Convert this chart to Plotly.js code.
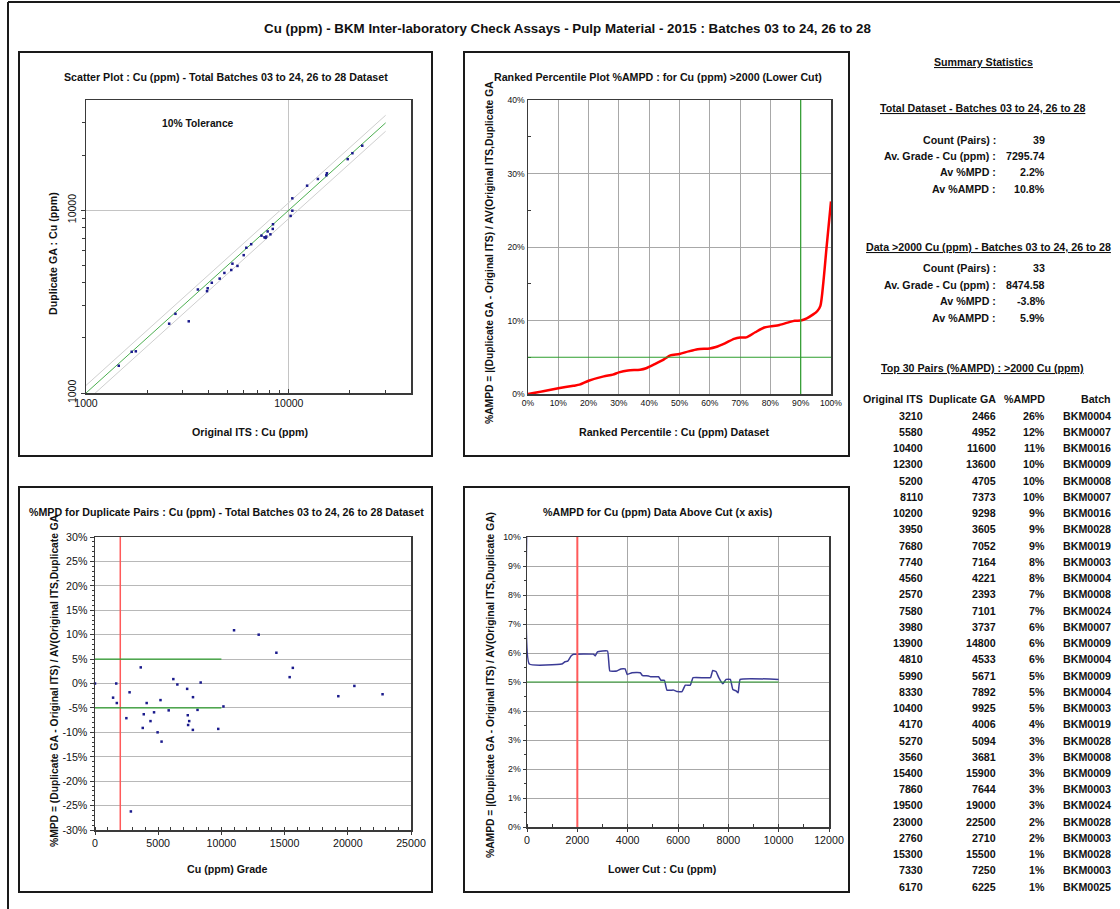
<!DOCTYPE html>
<html><head><meta charset="utf-8">
<script src="https://cdn.plot.ly/plotly-3.0.1.min.js"></script>
<style>html,body{margin:0;padding:0;background:#fff;}#chart{width:1120px;height:909px;}</style>
</head><body><div id="chart"></div>
<script>
// ================= DATA =================
// Pairs: first 30 are the "Top 30 Pairs" table (ordered by %AMPD), then the other visible pairs
const originalITS = [3210,5580,10400,12300,5200,8110,10200,3950,7680,7740,4560,2570,7580,3980,13900,4810,5990,8330,10400,4170,5270,3560,15400,7860,19500,23000,2760,15300,7330,6170, 6520,8350,20570, 1450,1680,1760];
const duplicateGA = [2466,4952,11600,13600,4705,7373,9298,3605,7052,7164,4221,2393,7101,3737,14800,4533,5671,7892,9925,4006,5094,3681,15900,7644,19000,22500,2710,15500,7250,6225, 6510,8370,20470, 1409,1680,1690];
const top30AMPD = ['26%','12%','11%','10%','10%','10%','9%','9%','9%','8%','8%','7%','7%','6%','6%','6%','5%','5%','5%','4%','3%','3%','3%','3%','3%','2%','2%','1%','1%','1%'];
const top30Batch = ['BKM0004','BKM0007','BKM0016','BKM0009','BKM0008','BKM0007','BKM0016','BKM0028','BKM0019','BKM0003','BKM0004','BKM0008','BKM0024','BKM0007','BKM0009','BKM0004','BKM0009','BKM0004','BKM0003','BKM0019','BKM0028','BKM0008','BKM0009','BKM0003','BKM0024','BKM0028','BKM0003','BKM0028','BKM0003','BKM0025'];

// Scatter reference lines
const lineX = [1000, 30000];
const tolerance = 0.10;

// %MPD plot (grade = pair average, %MPD)
const mpdGrade = [0,1430,1680,1725,2481,2735,2838,3620,3777,3858,4088,4390,4671,4952,5182,5266,5830,6197,6515,7290,7340,7366,7452,7752,7741,8111,8360,9749,10162,11000,12950,14350,15400,15650,19250,20520,22750];
const mpdValue = [0,-2.9,0,-4.0,-7.1,-1.8,-26.2,3.3,-9.1,-6.3,-4.0,-7.7,-5.9,-10.0,-3.4,-11.9,-5.5,0.9,-0.2,-1.1,-6.5,-8.5,-7.7,-2.8,-9.5,-5.4,0.2,-9.3,-4.7,10.9,10.0,6.3,1.3,3.2,-2.6,-0.5,-2.2];
const mpdTicks = [-30,-25,-20,-15,-10,-5,0,5,10,15,20,25,30];

// Ranked percentile plot
const rankPct  = [0,5,10,15,17,20,25,28,30,33,37,39,42,45,47,50,53,56,60,62,65,68,70,72,75,78,80,83,86,88,90,92,94,95.5,96.5,97.5,98.5,100];
const rankAMPD = [0,0.36,0.77,1.13,1.27,1.8,2.4,2.63,2.94,3.2,3.3,3.5,4.1,4.75,5.25,5.44,5.8,6.1,6.2,6.4,6.9,7.5,7.7,7.7,8.4,9.05,9.2,9.4,9.75,9.97,10.0,10.3,10.8,11.3,12.0,15.3,19.8,26.2];

// %AMPD above lower cut
const cutX    = [0,90,1380,1510,1620,1750,1850,2640,2710,2800,3200,3290,3570,3730,3900,3980,4170,4500,4590,4830,4910,5230,5320,5460,5560,5830,5960,6160,6290,6490,6600,7290,7380,7510,7620,7780,7910,8080,8180,8310,8390,8470,10000];
const cutAMPD = [10.8,5.62,5.62,5.70,5.72,5.90,5.96,5.96,5.90,6.04,6.07,5.38,5.38,5.45,5.45,5.26,5.32,5.32,5.22,5.21,5.18,5.18,5.06,5.06,4.72,4.72,4.67,4.67,4.89,4.89,5.15,5.15,5.40,5.36,5.15,4.94,5.09,5.09,4.74,4.69,4.63,5.09,5.09];

const lowerCut = 2000, ampdTarget = 5, percentileMark = 90, mpdBand = 5, bandMaxGrade = 10000;

const statLabels = ['Count (Pairs) :','Av. Grade - Cu (ppm) :','Av %MPD :','Av %AMPD :'];
const totalStats = ['39','7295.74','2.2%','10.8%'];
const cutStats   = ['33','8474.58','-3.8%','5.9%'];

// ================= LAYOUT HELPERS =================
const W = 1120, H = 909;
const px = v => v / W, py = v => 1 - v / H;
const FONT = '"Liberation Sans", Arial, sans-serif';
const TXT = '#111';
const annotations = [];
function txt(text, x, y, o) {
  o = o || {};
  annotations.push(Object.assign({
    xref:'paper', yref:'paper', x:px(x), y:py(y), text:text, showarrow:false,
    xanchor:'center', yanchor:'middle', borderpad:0,
    font:{family:FONT, size:o.size || 10.67, color:TXT}
  }, o.extra || {}));
}

const axBase = {showline:true, mirror:true, linecolor:'#3a3a3a', linewidth:1.5, zeroline:false,
  ticklen:4, tickcolor:'#3a3a3a', tickwidth:1, gridcolor:'#b0b0b0', gridwidth:1, fixedrange:true,
  tickfont:{family:FONT, size:9, color:TXT}};
function ax(extra){ return Object.assign({}, axBase, extra); }

// ================= TRACES =================
const traces = [];
// Scatter plot (log-log)
traces.push({x:lineX, y:lineX.map(v=>v*(1+tolerance)), xaxis:'x', yaxis:'y', mode:'lines', line:{color:'#cfcfcf', width:1}, hoverinfo:'skip'});
traces.push({x:lineX, y:lineX.map(v=>v*(1-tolerance)), xaxis:'x', yaxis:'y', mode:'lines', line:{color:'#cfcfcf', width:1}, hoverinfo:'skip'});
traces.push({x:lineX, y:lineX, xaxis:'x', yaxis:'y', mode:'lines', line:{color:'#4caf50', width:1}, hoverinfo:'skip'});
traces.push({x:originalITS, y:duplicateGA, xaxis:'x', yaxis:'y', mode:'markers', marker:{symbol:'square', size:2.5, color:'#1a1a8c'}});
// Ranked percentile
traces.push({x:rankPct, y:rankAMPD, xaxis:'x2', yaxis:'y2', mode:'lines', line:{color:'#ff0000', width:2.5, shape:'spline', smoothing:0.7}});
// %MPD
traces.push({x:mpdGrade, y:mpdValue, xaxis:'x3', yaxis:'y3', mode:'markers', marker:{symbol:'square', size:2.5, color:'#1a1a8c'}, cliponaxis:false});
// %AMPD above cut
traces.push({x:cutX, y:cutAMPD, xaxis:'x4', yaxis:'y4', mode:'lines', line:{color:'#3b3b96', width:1.5, shape:'spline', smoothing:0.3}});

// ================= AXES =================
const layout = {
  width:W, height:H, margin:{l:0,r:0,t:0,b:0}, paper_bgcolor:'#fff', plot_bgcolor:'#fff',
  showlegend:false, font:{family:FONT, color:TXT},
  xaxis: ax({type:'log', range:[3, Math.log10(40000)], domain:[px(86), px(411)], anchor:'y',
    tickmode:'array', tickvals:[1000,10000], ticktext:['1000','10000'], ticks:'inside', showgrid:true, gridcolor:'#c4c4c4',
    tickfont:{family:FONT, size:10.5, color:TXT},
    minor:{tickmode:'array', tickvals:[2000,3000,4000,5000,6000,7000,8000,9000,20000,30000], ticks:'inside', ticklen:3, tickcolor:'#3a3a3a', showgrid:false}}),
  yaxis: ax({type:'log', range:[3, Math.log10(40000)], domain:[py(393), py(100)], anchor:'x',
    tickmode:'array', tickvals:[1000,10000], ticktext:['1000','10000'], ticks:'outside', showgrid:true, gridcolor:'#c4c4c4',
    tickangle:-90, tickfont:{family:FONT, size:10.5, color:TXT},
    minor:{tickmode:'array', tickvals:[2000,3000,4000,5000,6000,7000,8000,9000,20000,30000], ticks:'outside', ticklen:3, tickcolor:'#3a3a3a', showgrid:false}}),
  xaxis2: ax({range:[0,100], domain:[px(528), px(831)], anchor:'y2', dtick:10, ticksuffix:'%', ticks:'', showgrid:true, gridcolor:'#a8a8a8',
    tickfont:{family:FONT, size:8.6, color:TXT}}),
  yaxis2: ax({range:[0,40], domain:[py(394), py(100)], anchor:'x2', dtick:10, ticksuffix:'%', ticks:'', showgrid:true, gridcolor:'#a8a8a8',
    tickfont:{family:FONT, size:8.6, color:TXT},
    minor:{dtick:5, ticks:'inside', ticklen:3, tickcolor:'#3a3a3a', showgrid:false}}),
  xaxis3: ax({range:[0,25000], domain:[px(95), px(411)], anchor:'y3', dtick:5000, tickformat:'d', ticks:'outside', ticklen:3, showgrid:false,
    tickfont:{family:FONT, size:10.67, color:TXT},
    minor:{dtick:1000, ticks:'inside', ticklen:3, tickcolor:'#3a3a3a', showgrid:false}}),
  yaxis3: ax({range:[-30,30], domain:[py(830), py(537)], anchor:'x3', tickmode:'array', tickvals:mpdTicks, ticktext:mpdTicks.map(t=>t+'%'),
    ticks:'outside', showgrid:true, gridcolor:'#b8b8b8', tickfont:{family:FONT, size:10.67, color:TXT},
    minor:{dtick:1, ticks:'outside', ticklen:2, tickcolor:'#3a3a3a', showgrid:false}}),
  xaxis4: ax({range:[0,12000], domain:[px(527), px(829)], anchor:'y4', dtick:2000, tickformat:'d', ticks:'outside', ticklen:3, showgrid:true, gridcolor:'#a8a8a8',
    tickfont:{family:FONT, size:10.67, color:TXT},
    minor:{dtick:1000, ticks:'inside', ticklen:3, tickcolor:'#3a3a3a', showgrid:false}}),
  yaxis4: ax({range:[0,10], domain:[py(827), py(537)], anchor:'x4', dtick:1, ticksuffix:'%', ticks:'outside', ticklen:3, showgrid:true, gridcolor:'#a8a8a8',
    layer:'below traces', tickfont:{family:FONT, size:8.8, color:TXT},
    minor:{dtick:0.5, ticks:'outside', ticklen:2, tickcolor:'#3a3a3a', showgrid:false}}),
  annotations: annotations,
  shapes: []
};

// ================= SHAPES =================
const S = layout.shapes;
// outer frame (left + top visible)
S.push({type:'line', xref:'paper', yref:'paper', x0:px(8), x1:px(1120), y0:py(2), y1:py(2), line:{color:'#1a1a1a', width:2}});
S.push({type:'line', xref:'paper', yref:'paper', x0:px(8), x1:px(8), y0:py(2), y1:py(909), line:{color:'#1a1a1a', width:2}});
// panel borders
[[19,52,432,456],[464,52,849,456],[19,487,432,892],[464,487,849,892]].forEach(b=>{
  S.push({type:'rect', xref:'paper', yref:'paper', x0:px(b[0]), x1:px(b[2]), y0:py(b[3]), y1:py(b[1]), line:{color:'#1a1a1a', width:2}, layer:'below'});
});
// ranked plot reference lines
S.push({type:'line', xref:'x2', yref:'y2', x0:0, x1:100, y0:ampdTarget, y1:ampdTarget, line:{color:'#2e9e2e', width:1.2}});
S.push({type:'line', xref:'x2', yref:'y2 domain', x0:percentileMark, x1:percentileMark, y0:0, y1:1, line:{color:'#2e9e2e', width:1.2}});
// MPD plot reference lines
S.push({type:'line', xref:'x3', yref:'y3 domain', x0:lowerCut, x1:lowerCut, y0:0, y1:1, line:{color:'#ff5a5a', width:1.5}});
S.push({type:'line', xref:'x3', yref:'y3', x0:0, x1:bandMaxGrade, y0:mpdBand, y1:mpdBand, line:{color:'#2e9e2e', width:1.2}});
S.push({type:'line', xref:'x3', yref:'y3', x0:0, x1:bandMaxGrade, y0:-mpdBand, y1:-mpdBand, line:{color:'#2e9e2e', width:1.2}});
// AMPD plot reference lines
S.push({type:'line', xref:'x4', yref:'y4 domain', x0:lowerCut, x1:lowerCut, y0:0, y1:1, line:{color:'#ff5a5a', width:2}});
S.push({type:'line', xref:'x4', yref:'y4', x0:0, x1:bandMaxGrade, y0:ampdTarget, y1:ampdTarget, line:{color:'#2e9e2e', width:1.2}});

// ================= TEXT =================
txt('<b>Cu (ppm) - BKM Inter-laboratory Check Assays - Pulp Material - 2015 : Batches 03 to 24, 26 to 28</b>', 567, 28, {size:13.33});
// panel titles
txt('<b>Scatter Plot : Cu (ppm) - Total Batches 03 to 24, 26 to 28 Dataset</b>', 226, 77);
txt('<b>Ranked Percentile Plot %AMPD : for Cu (ppm) >2000 (Lower Cut)</b>', 658, 77);
txt('<b>%MPD for Duplicate Pairs : Cu (ppm) - Total Batches 03 to 24, 26 to 28 Dataset</b>', 226, 512);
txt('<b>%AMPD for Cu (ppm) Data Above Cut (x axis)</b>', 658, 512);
// axis titles
txt('<b>Original ITS : Cu (ppm)</b>', 250, 432);
txt('<b>Duplicate GA : Cu (ppm)</b>', 53, 254, {extra:{textangle:-90}});
txt('<b>10% Tolerance</b>', 198, 124, {size:10.3});
txt('<b>Ranked Percentile : Cu (ppm) Dataset</b>', 674, 432);
txt('<b>%AMPD = |(Duplicate GA - Original ITS) / AV(Original ITS,Duplicate GA</b>', 489, 253, {size:10.3, extra:{textangle:-90}});
txt('<b>Cu (ppm) Grade</b>', 227, 869);
txt('<b>%MPD = (Duplicate GA - Original ITS) / AV(Original ITS,Duplicate GA</b>', 54, 681, {size:10.3, extra:{textangle:-90}});
txt('<b>Lower Cut : Cu (ppm)</b>', 662, 869);
txt('<b>%AMPD = |(Duplicate GA - Original ITS) / AV(Original ITS,Duplicate GA)</b>', 490, 685, {size:10.3, extra:{textangle:-90}});

// summary statistics
txt('<b><u>Summary Statistics</u></b>', 983, 62);
txt('<b><u>Total Dataset - Batches 03 to 24, 26 to 28</u></b>', 982, 108);
const r1 = [140,156,172.3,189];
statLabels.forEach((l,i)=>{
  txt('<b>'+l+'</b>', 997, r1[i], {extra:{xanchor:'right'}});
  txt('<b>'+totalStats[i]+'</b>', 1046, r1[i], {extra:{xanchor:'right'}});
});
txt('<b><u>Data >2000 Cu (ppm) - Batches 03 to 24, 26 to 28</u></b>', 988, 247);
const r2 = [268,284.7,301,317.7];
statLabels.forEach((l,i)=>{
  txt('<b>'+l+'</b>', 997, r2[i], {extra:{xanchor:'right'}});
  txt('<b>'+cutStats[i]+'</b>', 1046, r2[i], {extra:{xanchor:'right'}});
});
txt('<b><u>Top 30 Pairs (%AMPD) : >2000 Cu (ppm)</u></b>', 982, 368);
const cols = [924, 997, 1046, 1112];
['Original ITS','Duplicate GA','%AMPD','Batch'].forEach((h,i)=> txt('<b>'+h+'</b>', cols[i], 399, {extra:{xanchor:'right'}}));
for (let i = 0; i < 30; i++) {
  const y = 415.7 + i * 16.24;
  txt('<b>'+originalITS[i]+'</b>', cols[0], y, {extra:{xanchor:'right'}});
  txt('<b>'+duplicateGA[i]+'</b>', cols[1], y, {extra:{xanchor:'right'}});
  txt('<b>'+top30AMPD[i]+'</b>', cols[2], y, {extra:{xanchor:'right'}});
  txt('<b>'+top30Batch[i]+'</b>', cols[3], y, {extra:{xanchor:'right'}});
}

Plotly.newPlot('chart', traces, layout, {staticPlot:true, displayModeBar:false});
</script>
</body></html>
